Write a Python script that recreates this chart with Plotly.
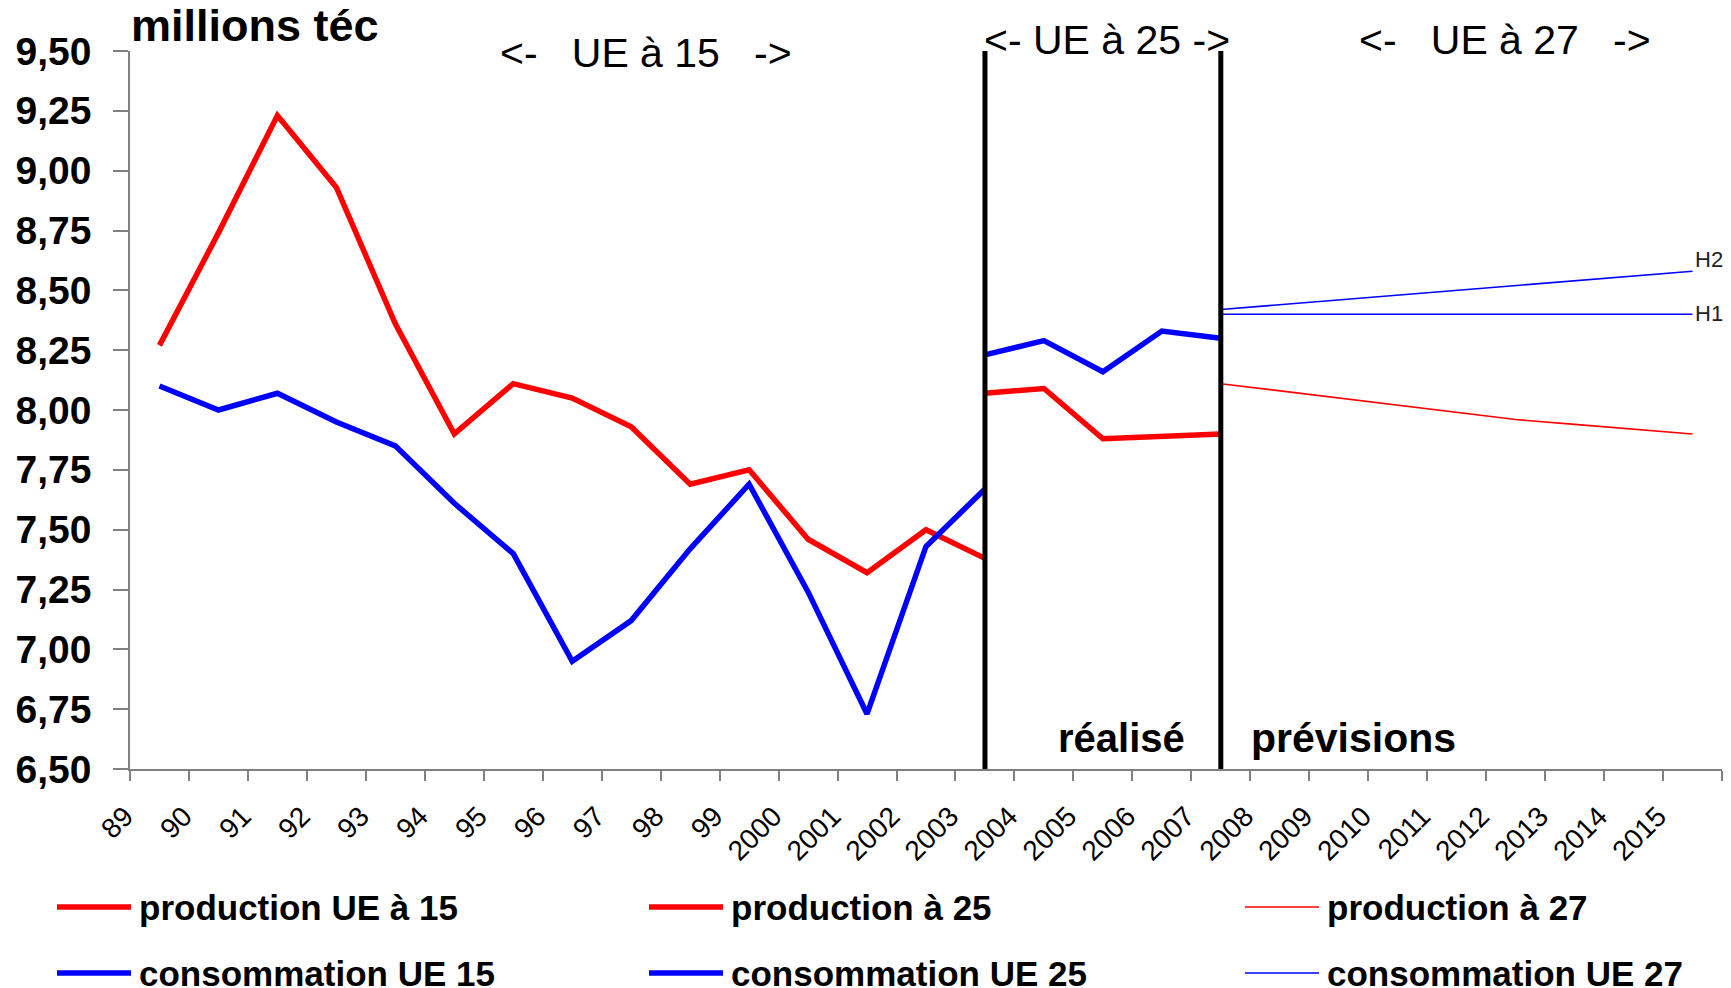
import plotly.graph_objects as go

# ---------------- data ----------------
years_all = list(range(1989, 2016))
tick_labels = ["89", "90", "91", "92", "93", "94", "95", "96", "97", "98", "99",
               "2000", "2001", "2002", "2003", "2004", "2005", "2006", "2007", "2008",
               "2009", "2010", "2011", "2012", "2013", "2014", "2015"]

years_ue15 = [1989, 1990, 1991, 1992, 1993, 1994, 1995, 1996, 1997, 1998, 1999, 2000, 2001, 2002, 2003]
prod_ue15 = [8.27, 8.74, 9.23, 8.93, 8.36, 7.90, 8.11, 8.05, 7.93, 7.69, 7.75, 7.46, 7.32, 7.50, 7.38]
cons_ue15 = [8.10, 8.00, 8.07, 7.95, 7.85, 7.61, 7.40, 6.95, 7.12, 7.42, 7.69, 7.24, 6.73, 7.43, 7.67]

years_ue25 = [2003, 2004, 2005, 2006, 2007]
prod_ue25 = [8.07, 8.09, 7.88, 7.89, 7.90]
cons_ue25 = [8.23, 8.29, 8.16, 8.33, 8.30]

years_ue27 = [2007, 2008, 2009, 2010, 2011, 2012, 2013, 2014, 2015]
prod_ue27 = [8.11, 8.08, 8.05, 8.02, 7.99, 7.96, 7.94, 7.92, 7.90]
cons_ue27_h2 = [8.42, 8.44, 8.46, 8.48, 8.50, 8.52, 8.54, 8.56, 8.58]
cons_ue27_h1 = [8.40, 8.40, 8.40, 8.40, 8.40, 8.40, 8.40, 8.40, 8.40]

separator_years = [2003, 2007]

y_min, y_max = 6.5, 9.5
y_ticks = [6.50, 6.75, 7.00, 7.25, 7.50, 7.75, 8.00, 8.25, 8.50, 8.75, 9.00, 9.25, 9.50]

# ---------------- layout constants (page pixels) ----------------
OFF = 8                       # body margin of the html page
PAGE_W, PAGE_H = 1731, 988
PL, PR, PT, PB = 130, 1722, 51, 769   # plot area in page pixels
W, H = PAGE_W - OFF, PAGE_H - OFF
ML, MT = PL - OFF, PT - OFF
PW, PH = PR - PL, PB - PT
MR, MB = W - ML - PW, H - MT - PH

RED = "#FF0000"
BLUE = "#0000FF"
AXIS = "#808080"
FONT = "Liberation Sans, Arial, sans-serif"


def px(xp):
    return (xp - PL) / PW


def py(yp):
    return (PB - yp) / PH


fig = go.Figure()

THICK, THIN = 5.5, 1.6
series = [
    ("production UE à 15", years_ue15, prod_ue15, RED, THICK),
    ("production à 25", years_ue25, prod_ue25, RED, THICK),
    ("production à 27", years_ue27, prod_ue27, RED, THIN),
    ("consommation UE 15", years_ue15, cons_ue15, BLUE, THICK),
    ("consommation UE 25", years_ue25, cons_ue25, BLUE, THICK),
    ("consommation UE 27", years_ue27, cons_ue27_h2, BLUE, THIN),
    ("consommation UE 27 (H1)", years_ue27, cons_ue27_h1, BLUE, THIN),
]
for name, xs, ys, col, w in series:
    fig.add_trace(go.Scatter(x=xs, y=ys, mode="lines", name=name,
                             line=dict(color=col, width=w), showlegend=False,
                             hoverinfo="x+y+name"))

shapes = []
for yr in separator_years:
    shapes.append(dict(type="line", xref="x", yref="y", x0=yr, x1=yr, y0=y_min, y1=y_max,
                       line=dict(color="black", width=5), layer="above"))

annotations = []

# manual legend (3 columns x 2 rows), page pixel positions
legend_items = [
    ("production UE à 15", RED, THICK, 57, 907),
    ("production à 25", RED, THICK, 649, 907),
    ("production à 27", RED, THIN, 1245, 907),
    ("consommation UE 15", BLUE, THICK, 57, 973),
    ("consommation UE 25", BLUE, THICK, 649, 973),
    ("consommation UE 27", BLUE, THIN, 1245, 973),
]
for text, col, w, x0, yc in legend_items:
    shapes.append(dict(type="line", xref="paper", yref="paper",
                       x0=px(x0), x1=px(x0 + 74), y0=py(yc), y1=py(yc),
                       line=dict(color=col, width=w)))
    annotations.append(dict(xref="paper", yref="paper", x=px(x0 + 80), y=py(yc),
                            xanchor="left", yanchor="middle", text=text, showarrow=False,
                            font=dict(family=FONT, size=35, color="black", weight="bold")))

NB = "\u00a0"
texts = [
    ("millions téc", 129, 25, "left", 45, "bold"),
    (f"<-{NB*3}UE à 15{NB*3}->", 646, 53, "center", 41, "normal"),
    ("<- UE à 25 ->", 1107, 40, "center", 41, "normal"),
    (f"<-{NB*3}UE à 27{NB*3}->", 1505, 40, "center", 41, "normal"),
    ("réalisé", 1121, 738, "center", 40, "bold"),
    ("prévisions", 1249, 738, "left", 41, "bold"),
]
for t, x, y, anc, size, weight in texts:
    annotations.append(dict(xref="paper", yref="paper", x=px(x), y=py(y), xanchor=anc,
                            yanchor="middle", text=t, showarrow=False,
                            font=dict(family=FONT, size=size, color="black", weight=weight)))

annotations.append(dict(xref="x", yref="y", x=years_ue27[-1], y=cons_ue27_h2[-1], text="H2",
                        xanchor="left", yanchor="middle", xshift=0, yshift=12, showarrow=False,
                        font=dict(family=FONT, size=22, color="#222222")))
annotations.append(dict(xref="x", yref="y", x=years_ue27[-1], y=cons_ue27_h1[-1], text="H1",
                        xanchor="left", yanchor="middle", xshift=0, yshift=1, showarrow=False,
                        font=dict(family=FONT, size=22, color="#222222")))

fig.update_layout(
    width=W, height=H,
    margin=dict(l=ML, r=MR, t=MT, b=MB, autoexpand=False),
    paper_bgcolor="white", plot_bgcolor="white",
    separators=", ",
    showlegend=False,
    shapes=shapes,
    annotations=annotations,
    xaxis=dict(
        range=[years_all[0] - 0.5, years_all[-1] + 0.5],
        tickmode="array",
        tickvals=[y - 0.5 for y in years_all] + [years_all[-1] + 0.5],
        ticktext=tick_labels + [""],
        tickangle=-45,
        ticks="outside", ticklen=10, tickwidth=1.5, tickcolor=AXIS,
        showline=True, linecolor=AXIS, linewidth=1.5,
        showgrid=False, zeroline=False,
        tickfont=dict(family=FONT, size=28, color="black"),
        ticklabelstandoff=8,
        ticklabelshift=-5,
    ),
    yaxis=dict(
        range=[y_min, y_max],
        tickmode="array",
        tickvals=y_ticks,
        tickformat=".2f",
        ticks="outside", ticklen=15, tickwidth=1.5, tickcolor=AXIS,
        showline=True, linecolor=AXIS, linewidth=1.5,
        showgrid=False, zeroline=False,
        tickfont=dict(family=FONT, size=39, color="black", weight="bold"),
        ticklabelstandoff=14,
    ),
)

fig.write_html("out.html")
